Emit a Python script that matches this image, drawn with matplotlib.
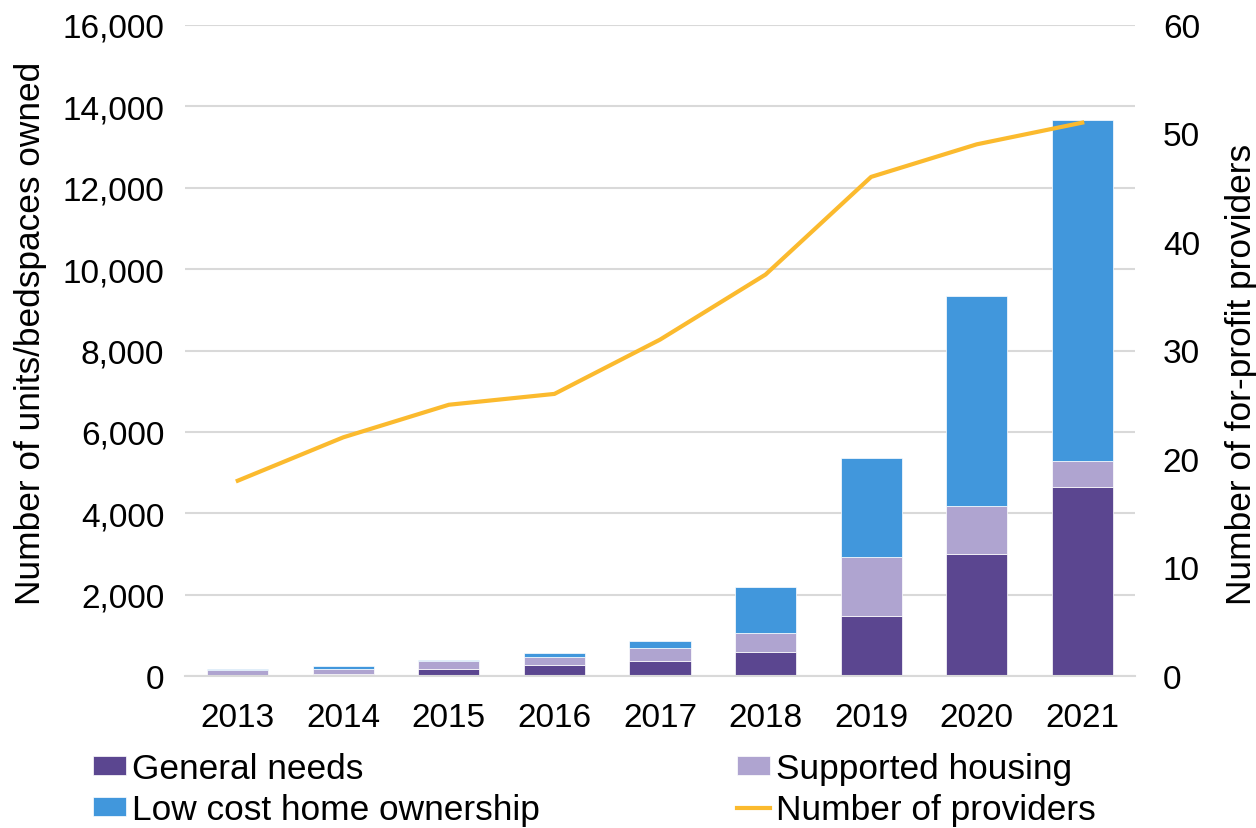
import matplotlib
matplotlib.use("Agg")
import matplotlib.pyplot as plt
import numpy as np
from matplotlib.ticker import FuncFormatter, MultipleLocator

plt.rcParams['font.family'] = ['Liberation Sans', 'DejaVu Sans']

years = ["2013", "2014", "2015", "2016", "2017", "2018", "2019", "2020", "2021"]
general_needs = [30, 50, 165, 265, 370, 600, 1470, 3010, 4640]
supported_housing = [125, 130, 205, 210, 330, 460, 1460, 1180, 640]
low_cost_home_ownership = [25, 70, 25, 85, 165, 1120, 2425, 5160, 8380]
providers = [18, 22, 25, 26, 31, 37, 46, 49, 51]

c_gn = "#5B4690"
c_sh = "#AFA4D0"
c_lc = "#4197DC"
c_line = "#FBBA2E"
FS = 24
FL = 25.4

fig = plt.figure(figsize=(12.56, 8.29), dpi=100)
ax = fig.add_axes([185/1256, 1-677/829, 950/1256, 651/829])
x = np.arange(len(years))
w = 0.58
gn = np.array(general_needs)
sh = np.array(supported_housing)
lc = np.array(low_cost_home_ownership)
b1 = ax.bar(x, gn, w, color=c_gn, edgecolor="white", linewidth=0.5, zorder=2, label="General needs")
b2 = ax.bar(x, sh, w, bottom=gn, color=c_sh, edgecolor="white", linewidth=0.5, zorder=2, label="Supported housing")
b3 = ax.bar(x, lc, w, bottom=gn + sh, color=c_lc, edgecolor="white", linewidth=0.5, zorder=2, label="Low cost home ownership")
ax.set_xlim(-0.5, len(years) - 0.5)
ax.set_ylim(0, 16000)
ax.yaxis.set_major_locator(MultipleLocator(2000))
ax.yaxis.set_major_formatter(FuncFormatter(lambda v, p: f"{int(v):,}"))
ax.grid(axis="y", color="#D9D9D9", linewidth=1.5, zorder=0)
ax.set_axisbelow(True)
for s in ["top", "right", "left"]:
    ax.spines[s].set_visible(False)
ax.spines["bottom"].set_color("#D9D9D9")
ax.spines["bottom"].set_linewidth(1.5)
ax.set_xticks(x)
ax.set_xticklabels(years)
ax.tick_params(axis="x", length=0, labelsize=FS, pad=19)
ax.tick_params(axis="y", length=0, labelsize=FS, pad=15)
ax.set_ylabel("Number of units/bedspaces owned", fontsize=FL, labelpad=11)
ax.yaxis.label.set_y(0.528)

ax2 = ax.twinx()
ln, = ax2.plot(x, providers, color=c_line, linewidth=3, label="Number of providers", zorder=3)
ax2.set_ylim(0, 60)
ax2.yaxis.set_major_locator(MultipleLocator(10))
for s in ["top", "right", "left", "bottom"]:
    ax2.spines[s].set_visible(False)
ax2.tick_params(axis="y", length=0, labelsize=FS, pad=20)
ax2.set_ylabel("Number of for-profit providers", fontsize=FL, labelpad=18)
ax2.yaxis.label.set_y(0.464)

handles = [b1, b3, b2, ln]
labels = ["General needs", "Low cost home ownership", "Supported housing", "Number of providers"]
fig.legend(handles, labels, loc="upper left", bbox_to_anchor=(93/1256, 1-753/829), ncol=2,
           frameon=False, fontsize=FL, columnspacing=5.6, handlelength=0.93, handleheight=0.45,
           handletextpad=0.17, labelspacing=0.22, borderaxespad=0, borderpad=0)

fig.savefig("out.png", dpi=100)
